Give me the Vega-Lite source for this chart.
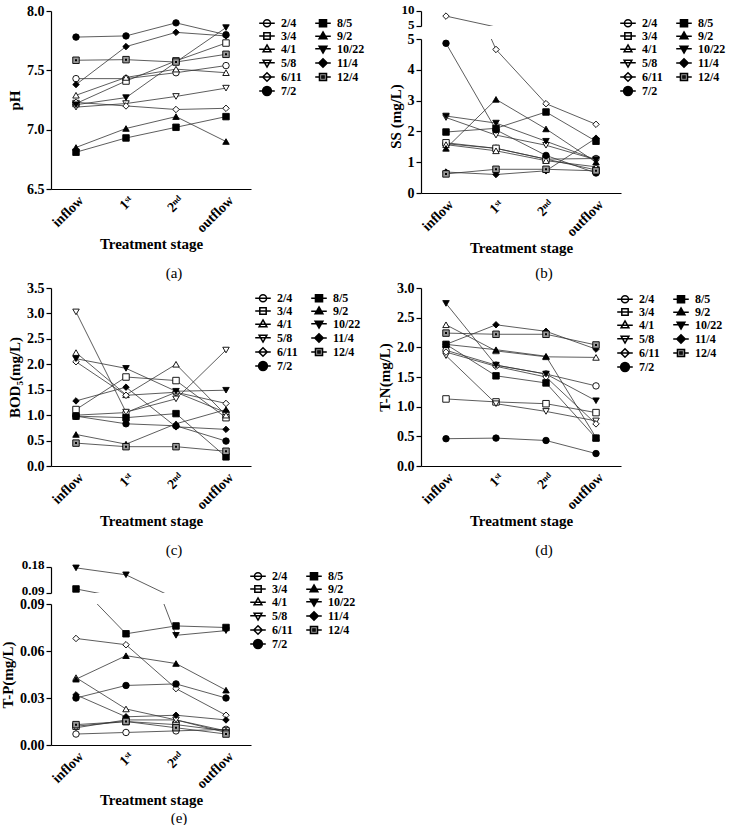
{
"$schema":"https://vega.github.io/schema/vega-lite/v6.json",
"padding":{"left":0,"top":3,"right":0,"bottom":0},
"background":"white",
"datasets":{"d":[
{"p":"a","s":"2/4","t":"inflow","v":7.43},{"p":"a","s":"2/4","t":"1st","v":7.43},{"p":"a","s":"2/4","t":"2nd","v":7.48},{"p":"a","s":"2/4","t":"outflow","v":7.54},
{"p":"a","s":"3/4","t":"inflow","v":7.22},{"p":"a","s":"3/4","t":"1st","v":7.41},{"p":"a","s":"3/4","t":"2nd","v":7.58},{"p":"a","s":"3/4","t":"outflow","v":7.73},
{"p":"a","s":"4/1","t":"inflow","v":7.29},{"p":"a","s":"4/1","t":"1st","v":7.44},{"p":"a","s":"4/1","t":"2nd","v":7.51},{"p":"a","s":"4/1","t":"outflow","v":7.48},
{"p":"a","s":"5/8","t":"inflow","v":7.19},{"p":"a","s":"5/8","t":"1st","v":7.22},{"p":"a","s":"5/8","t":"2nd","v":7.28},{"p":"a","s":"5/8","t":"outflow","v":7.35},
{"p":"a","s":"6/11","t":"inflow","v":7.23},{"p":"a","s":"6/11","t":"1st","v":7.2},{"p":"a","s":"6/11","t":"2nd","v":7.17},{"p":"a","s":"6/11","t":"outflow","v":7.18},
{"p":"a","s":"7/2","t":"inflow","v":7.78},{"p":"a","s":"7/2","t":"1st","v":7.79},{"p":"a","s":"7/2","t":"2nd","v":7.9},{"p":"a","s":"7/2","t":"outflow","v":7.8},
{"p":"a","s":"8/5","t":"inflow","v":6.81},{"p":"a","s":"8/5","t":"1st","v":6.93},{"p":"a","s":"8/5","t":"2nd","v":7.02},{"p":"a","s":"8/5","t":"outflow","v":7.11},
{"p":"a","s":"9/2","t":"inflow","v":6.85},{"p":"a","s":"9/2","t":"1st","v":7.01},{"p":"a","s":"9/2","t":"2nd","v":7.11},{"p":"a","s":"9/2","t":"outflow","v":6.9},
{"p":"a","s":"10/22","t":"inflow","v":7.21},{"p":"a","s":"10/22","t":"1st","v":7.27},{"p":"a","s":"10/22","t":"2nd","v":7.57},{"p":"a","s":"10/22","t":"outflow","v":7.86},
{"p":"a","s":"11/4","t":"inflow","v":7.38},{"p":"a","s":"11/4","t":"1st","v":7.7},{"p":"a","s":"11/4","t":"2nd","v":7.82},{"p":"a","s":"11/4","t":"outflow","v":7.79},
{"p":"a","s":"12/4","t":"inflow","v":7.585},{"p":"a","s":"12/4","t":"1st","v":7.59},{"p":"a","s":"12/4","t":"2nd","v":7.57},{"p":"a","s":"12/4","t":"outflow","v":7.635},
{"p":"b","s":"2/4","t":"inflow","v":1.6},{"p":"b","s":"2/4","t":"1st","v":1.45},{"p":"b","s":"2/4","t":"2nd","v":1.1},{"p":"b","s":"2/4","t":"outflow","v":1.12},
{"p":"b","s":"3/4","t":"inflow","v":1.63},{"p":"b","s":"3/4","t":"1st","v":1.45},{"p":"b","s":"3/4","t":"2nd","v":1.1},{"p":"b","s":"3/4","t":"outflow","v":0.75},
{"p":"b","s":"4/1","t":"inflow","v":1.57},{"p":"b","s":"4/1","t":"1st","v":1.37},{"p":"b","s":"4/1","t":"2nd","v":1.05},{"p":"b","s":"4/1","t":"outflow","v":0.85},
{"p":"b","s":"5/8","t":"inflow","v":2.45},{"p":"b","s":"5/8","t":"1st","v":1.88},{"p":"b","s":"5/8","t":"2nd","v":1.55},{"p":"b","s":"5/8","t":"outflow","v":1.08},
{"p":"b","s":"6/11","t":"inflow","v":8.3},{"p":"b","s":"6/11","t":"1st","v":4.66},{"p":"b","s":"6/11","t":"2nd","v":2.9},{"p":"b","s":"6/11","t":"outflow","v":2.23},
{"p":"b","s":"7/2","t":"inflow","v":4.86},{"p":"b","s":"7/2","t":"1st","v":2.05},{"p":"b","s":"7/2","t":"2nd","v":1.22},{"p":"b","s":"7/2","t":"outflow","v":0.65},
{"p":"b","s":"8/5","t":"inflow","v":1.98},{"p":"b","s":"8/5","t":"1st","v":2.1},{"p":"b","s":"8/5","t":"2nd","v":2.63},{"p":"b","s":"8/5","t":"outflow","v":1.68},
{"p":"b","s":"9/2","t":"inflow","v":1.45},{"p":"b","s":"9/2","t":"1st","v":3.04},{"p":"b","s":"9/2","t":"2nd","v":2.08},{"p":"b","s":"9/2","t":"outflow","v":1.0},
{"p":"b","s":"10/22","t":"inflow","v":2.5},{"p":"b","s":"10/22","t":"1st","v":2.27},{"p":"b","s":"10/22","t":"2nd","v":1.68},{"p":"b","s":"10/22","t":"outflow","v":1.08},
{"p":"b","s":"11/4","t":"inflow","v":0.68},{"p":"b","s":"11/4","t":"1st","v":0.6},{"p":"b","s":"11/4","t":"2nd","v":0.72},{"p":"b","s":"11/4","t":"outflow","v":1.78},
{"p":"b","s":"12/4","t":"inflow","v":0.62},{"p":"b","s":"12/4","t":"1st","v":0.77},{"p":"b","s":"12/4","t":"2nd","v":0.77},{"p":"b","s":"12/4","t":"outflow","v":0.72},
{"p":"c","s":"2/4","t":"inflow","v":1.0},{"p":"c","s":"2/4","t":"1st","v":1.05},{"p":"c","s":"2/4","t":"2nd","v":1.45},{"p":"c","s":"2/4","t":"outflow","v":1.05},
{"p":"c","s":"3/4","t":"inflow","v":1.11},{"p":"c","s":"3/4","t":"1st","v":1.75},{"p":"c","s":"3/4","t":"2nd","v":1.68},{"p":"c","s":"3/4","t":"outflow","v":0.95},
{"p":"c","s":"4/1","t":"inflow","v":2.23},{"p":"c","s":"4/1","t":"1st","v":1.4},{"p":"c","s":"4/1","t":"2nd","v":2.0},{"p":"c","s":"4/1","t":"outflow","v":1.0},
{"p":"c","s":"5/8","t":"inflow","v":3.03},{"p":"c","s":"5/8","t":"1st","v":1.06},{"p":"c","s":"5/8","t":"2nd","v":1.32},{"p":"c","s":"5/8","t":"outflow","v":2.28},
{"p":"c","s":"6/11","t":"inflow","v":2.05},{"p":"c","s":"6/11","t":"1st","v":1.39},{"p":"c","s":"6/11","t":"2nd","v":1.45},{"p":"c","s":"6/11","t":"outflow","v":1.23},
{"p":"c","s":"7/2","t":"inflow","v":0.98},{"p":"c","s":"7/2","t":"1st","v":0.83},{"p":"c","s":"7/2","t":"2nd","v":0.79},{"p":"c","s":"7/2","t":"outflow","v":0.49},
{"p":"c","s":"8/5","t":"inflow","v":0.98},{"p":"c","s":"8/5","t":"1st","v":0.95},{"p":"c","s":"8/5","t":"2nd","v":1.03},{"p":"c","s":"8/5","t":"outflow","v":0.18},
{"p":"c","s":"9/2","t":"inflow","v":0.62},{"p":"c","s":"9/2","t":"1st","v":0.43},{"p":"c","s":"9/2","t":"2nd","v":0.83},{"p":"c","s":"9/2","t":"outflow","v":1.11},
{"p":"c","s":"10/22","t":"inflow","v":2.11},{"p":"c","s":"10/22","t":"1st","v":1.92},{"p":"c","s":"10/22","t":"2nd","v":1.47},{"p":"c","s":"10/22","t":"outflow","v":1.49},
{"p":"c","s":"11/4","t":"inflow","v":1.28},{"p":"c","s":"11/4","t":"1st","v":1.55},{"p":"c","s":"11/4","t":"2nd","v":0.77},{"p":"c","s":"11/4","t":"outflow","v":0.72},
{"p":"c","s":"12/4","t":"inflow","v":0.45},{"p":"c","s":"12/4","t":"1st","v":0.38},{"p":"c","s":"12/4","t":"2nd","v":0.38},{"p":"c","s":"12/4","t":"outflow","v":0.29},
{"p":"d","s":"2/4","t":"inflow","v":1.95},{"p":"d","s":"2/4","t":"1st","v":1.7},{"p":"d","s":"2/4","t":"2nd","v":1.55},{"p":"d","s":"2/4","t":"outflow","v":1.35},
{"p":"d","s":"3/4","t":"inflow","v":1.13},{"p":"d","s":"3/4","t":"1st","v":1.08},{"p":"d","s":"3/4","t":"2nd","v":1.05},{"p":"d","s":"3/4","t":"outflow","v":0.9},
{"p":"d","s":"4/1","t":"inflow","v":2.38},{"p":"d","s":"4/1","t":"1st","v":1.94},{"p":"d","s":"4/1","t":"2nd","v":1.84},{"p":"d","s":"4/1","t":"outflow","v":1.83},
{"p":"d","s":"5/8","t":"inflow","v":1.86},{"p":"d","s":"5/8","t":"1st","v":1.05},{"p":"d","s":"5/8","t":"2nd","v":0.92},{"p":"d","s":"5/8","t":"outflow","v":0.76},
{"p":"d","s":"6/11","t":"inflow","v":1.92},{"p":"d","s":"6/11","t":"1st","v":1.68},{"p":"d","s":"6/11","t":"2nd","v":1.5},{"p":"d","s":"6/11","t":"outflow","v":0.71},
{"p":"d","s":"7/2","t":"inflow","v":0.46},{"p":"d","s":"7/2","t":"1st","v":0.47},{"p":"d","s":"7/2","t":"2nd","v":0.43},{"p":"d","s":"7/2","t":"outflow","v":0.21},
{"p":"d","s":"8/5","t":"inflow","v":2.05},{"p":"d","s":"8/5","t":"1st","v":1.52},{"p":"d","s":"8/5","t":"2nd","v":1.4},{"p":"d","s":"8/5","t":"outflow","v":0.47},
{"p":"d","s":"9/2","t":"inflow","v":2.05},{"p":"d","s":"9/2","t":"1st","v":1.96},{"p":"d","s":"9/2","t":"2nd","v":1.85},{"p":"d","s":"9/2","t":"outflow","v":0.48},
{"p":"d","s":"10/22","t":"inflow","v":2.74},{"p":"d","s":"10/22","t":"1st","v":1.7},{"p":"d","s":"10/22","t":"2nd","v":1.55},{"p":"d","s":"10/22","t":"outflow","v":1.1},
{"p":"d","s":"11/4","t":"inflow","v":2.05},{"p":"d","s":"11/4","t":"1st","v":2.38},{"p":"d","s":"11/4","t":"2nd","v":2.27},{"p":"d","s":"11/4","t":"outflow","v":1.97},
{"p":"d","s":"12/4","t":"inflow","v":2.24},{"p":"d","s":"12/4","t":"1st","v":2.22},{"p":"d","s":"12/4","t":"2nd","v":2.22},{"p":"d","s":"12/4","t":"outflow","v":2.04},
{"p":"e","s":"2/4","t":"inflow","v":0.007},{"p":"e","s":"2/4","t":"1st","v":0.008},{"p":"e","s":"2/4","t":"2nd","v":0.009},{"p":"e","s":"2/4","t":"outflow","v":0.01},
{"p":"e","s":"3/4","t":"inflow","v":0.012},{"p":"e","s":"3/4","t":"1st","v":0.015},{"p":"e","s":"3/4","t":"2nd","v":0.013},{"p":"e","s":"3/4","t":"outflow","v":0.009},
{"p":"e","s":"4/1","t":"inflow","v":0.043},{"p":"e","s":"4/1","t":"1st","v":0.023},{"p":"e","s":"4/1","t":"2nd","v":0.016},{"p":"e","s":"4/1","t":"outflow","v":0.009},
{"p":"e","s":"5/8","t":"inflow","v":0.011},{"p":"e","s":"5/8","t":"1st","v":0.016},{"p":"e","s":"5/8","t":"2nd","v":0.016},{"p":"e","s":"5/8","t":"outflow","v":0.008},
{"p":"e","s":"6/11","t":"inflow","v":0.068},{"p":"e","s":"6/11","t":"1st","v":0.064},{"p":"e","s":"6/11","t":"2nd","v":0.036},{"p":"e","s":"6/11","t":"outflow","v":0.019},
{"p":"e","s":"7/2","t":"inflow","v":0.03},{"p":"e","s":"7/2","t":"1st","v":0.038},{"p":"e","s":"7/2","t":"2nd","v":0.039},{"p":"e","s":"7/2","t":"outflow","v":0.03},
{"p":"e","s":"8/5","t":"inflow","v":0.104},{"p":"e","s":"8/5","t":"1st","v":0.071},{"p":"e","s":"8/5","t":"2nd","v":0.076},{"p":"e","s":"8/5","t":"outflow","v":0.075},
{"p":"e","s":"9/2","t":"inflow","v":0.042},{"p":"e","s":"9/2","t":"1st","v":0.057},{"p":"e","s":"9/2","t":"2nd","v":0.052},{"p":"e","s":"9/2","t":"outflow","v":0.035},
{"p":"e","s":"10/22","t":"inflow","v":0.177},{"p":"e","s":"10/22","t":"1st","v":0.153},{"p":"e","s":"10/22","t":"2nd","v":0.07},{"p":"e","s":"10/22","t":"outflow","v":0.073},
{"p":"e","s":"11/4","t":"inflow","v":0.032},{"p":"e","s":"11/4","t":"1st","v":0.018},{"p":"e","s":"11/4","t":"2nd","v":0.019},{"p":"e","s":"11/4","t":"outflow","v":0.016},
{"p":"e","s":"12/4","t":"inflow","v":0.013},{"p":"e","s":"12/4","t":"1st","v":0.015},{"p":"e","s":"12/4","t":"2nd","v":0.011},{"p":"e","s":"12/4","t":"outflow","v":0.007}
]},
"data":{"name":"d"},
"columns":2,
"align":"each",
"spacing":{"column":12,"row":0},
"resolve":{"scale":{"x":"independent","y":"independent","shape":"independent","fill":"independent"},"legend":{"shape":"independent","fill":"independent"}},
"concat":[
{
 "width":200,"height":178,
 "title":{"text":"(a)","orient":"bottom","offset":14,"dx":23},
 "transform":[{"filter":"datum.p=='a'"}],
 "encoding":{
  "x":{"field":"t","type":"ordinal","sort":["inflow","1st","2nd","outflow"],"scale":{"type":"point","padding":0.5},"axis":{"title":"Treatment stage","labelExpr":"datum.value=='1st'?'1ˢᵗ':datum.value=='2nd'?'2ⁿᵈ':datum.value"}},
  "y":{"field":"v","type":"quantitative","scale":{"domain":[6.5,8.0]},"axis":{"title":"pH","values":[6.5,7.0,7.5,8.0],"format":".1f"}}
 },
 "resolve":{"scale":{"shape":"independent","fill":"independent"}},
 "layer":[
  {"mark":{"type":"line","color":"#333","strokeWidth":0.8},"encoding":{"detail":{"field":"s"},"order":{"value":null}}},
  {"mark":{"type":"point","filled":true,"size":42,"stroke":"black","strokeWidth":0.9,"opacity":1},
   "encoding":{
    "shape":{"field":"s","type":"nominal","scale":{"domain":["2/4","3/4","4/1","5/8","6/11","7/2","8/5","9/2","10/22","11/4","12/4"],"range":["circle","square","triangle-up","triangle-down","diamond","circle","square","triangle-up","triangle-down","diamond","square"]},"legend":null},
    "fill":{"field":"s","type":"nominal","scale":{"domain":["2/4","3/4","4/1","5/8","6/11","7/2","8/5","9/2","10/22","11/4","12/4"],"range":["white","white","white","white","white","black","black","black","black","black","#9a9a9a"]},"legend":null}
   }},
  {"transform":[{"filter":"datum.s=='12/4'"}],"mark":{"type":"point","shape":"square","filled":true,"size":4,"color":"black","opacity":1}},
  {"transform":[{"filter":"false"}],
   "mark":{"type":"point","filled":true,"size":50,"stroke":"black","strokeWidth":0.9,"opacity":1},
   "encoding":{
    "shape":{"field":"s","type":"nominal","scale":{"domain":["2/4","3/4","4/1","5/8","6/11","7/2","8/5","9/2","10/22","11/4","12/4"],"range":["M-2.2,0H2.2M1,0A1,1,0,1,1,-1,0A1,1,0,1,1,1,0Z","M-2.2,0H2.2M-0.9,-0.9H0.9V0.9H-0.9Z","M-2.2,0.1H2.2M0,-1.15L1.1,0.8H-1.1Z","M-2.2,-0.1H2.2M0,1.15L1.1,-0.8H-1.1Z","M-2.2,0H2.2M0,-1.2L1.2,0L0,1.2L-1.2,0Z","M-2.2,0H2.2M1.25,0A1.25,1.25,0,1,1,-1.25,0A1.25,1.25,0,1,1,1.25,0Z","M-2.2,0H2.2M-1,-1H1V1H-1Z","M-2.2,0.1H2.2M0,-1.15L1.1,0.8H-1.1Z","M-2.2,-0.1H2.2M0,1.15L1.1,-0.8H-1.1Z","M-2.2,0H2.2M0,-1.2L1.2,0L0,1.2L-1.2,0Z","M-2.2,0H-1M1,0H2.2M-1,-1H1V1H-1ZM-0.3,-0.3H0.3V0.3H-0.3Z"]},
     "legend":{"title":null,"orient":"none","legendX":210,"legendY":6,"columns":2,"symbolSize":50,"labelOffset":8,"rowPadding":-3,"columnPadding":10}},
    "fill":{"field":"s","type":"nominal","scale":{"domain":["2/4","3/4","4/1","5/8","6/11","7/2","8/5","9/2","10/22","11/4","12/4"],"range":["white","white","white","white","white","black","black","black","black","black","#9a9a9a"]},"legend":null}
   }}
 ]
},
{
 "vconcat":[
  {
   "width":200,"height":15,
   "transform":[{"filter":"datum.p=='b'"}],
   "encoding":{
    "x":{"field":"t","type":"ordinal","sort":["inflow","1st","2nd","outflow"],"scale":{"type":"point","padding":0.5},"axis":null},
    "y":{"field":"v","type":"quantitative","scale":{"domain":[5,10]},"axis":{"title":null,"values":[5,10],"format":"d","labelFontSize":13,"labelOffset":-2}}
   },
   "layer":[
    {"mark":{"type":"line","color":"#333","strokeWidth":0.8,"clip":true},"encoding":{"detail":{"field":"s"},"order":{"value":null}}},
    {"transform":[{"filter":"datum.v>=5"}],"mark":{"type":"point","filled":true,"size":42,"stroke":"black","strokeWidth":0.9,"opacity":1},
     "encoding":{
      "shape":{"field":"s","type":"nominal","scale":{"domain":["2/4","3/4","4/1","5/8","6/11","7/2","8/5","9/2","10/22","11/4","12/4"],"range":["circle","square","triangle-up","triangle-down","diamond","circle","square","triangle-up","triangle-down","diamond","square"]},"legend":null},
      "fill":{"field":"s","type":"nominal","scale":{"domain":["2/4","3/4","4/1","5/8","6/11","7/2","8/5","9/2","10/22","11/4","12/4"],"range":["white","white","white","white","white","black","black","black","black","black","#9a9a9a"]},"legend":null}
     }}
   ]
  },
  {
   "width":200,"height":154,
   "title":{"text":"(b)","orient":"bottom","offset":10,"dx":23},
   "transform":[{"filter":"datum.p=='b'"}],
   "encoding":{
    "x":{"field":"t","type":"ordinal","sort":["inflow","1st","2nd","outflow"],"scale":{"type":"point","padding":0.5},"axis":{"title":"Treatment stage","labelExpr":"datum.value=='1st'?'1ˢᵗ':datum.value=='2nd'?'2ⁿᵈ':datum.value"}},
    "y":{"field":"v","type":"quantitative","scale":{"domain":[0,5]},"axis":{"title":"SS (mg/L)","values":[0,1,2,3,4,5],"format":"d"}}
   },
   "resolve":{"scale":{"shape":"independent","fill":"independent"}},
   "layer":[
    {"mark":{"type":"line","color":"#333","strokeWidth":0.8,"clip":true},"encoding":{"detail":{"field":"s"},"order":{"value":null}}},
    {"transform":[{"filter":"datum.v<=5"}],"mark":{"type":"point","filled":true,"size":42,"stroke":"black","strokeWidth":0.9,"opacity":1},
     "encoding":{
      "shape":{"field":"s","type":"nominal","scale":{"domain":["2/4","3/4","4/1","5/8","6/11","7/2","8/5","9/2","10/22","11/4","12/4"],"range":["circle","square","triangle-up","triangle-down","diamond","circle","square","triangle-up","triangle-down","diamond","square"]},"legend":null},
      "fill":{"field":"s","type":"nominal","scale":{"domain":["2/4","3/4","4/1","5/8","6/11","7/2","8/5","9/2","10/22","11/4","12/4"],"range":["white","white","white","white","white","black","black","black","black","black","#9a9a9a"]},"legend":null}
     }},
    {"transform":[{"filter":"datum.s=='12/4'"}],"mark":{"type":"point","shape":"square","filled":true,"size":4,"color":"black","opacity":1}},
    {"transform":[{"filter":"false"}],
     "mark":{"type":"point","filled":true,"size":50,"stroke":"black","strokeWidth":0.9,"opacity":1},
     "encoding":{
      "shape":{"field":"s","type":"nominal","scale":{"domain":["2/4","3/4","4/1","5/8","6/11","7/2","8/5","9/2","10/22","11/4","12/4"],"range":["M-2.2,0H2.2M1,0A1,1,0,1,1,-1,0A1,1,0,1,1,1,0Z","M-2.2,0H2.2M-0.9,-0.9H0.9V0.9H-0.9Z","M-2.2,0.1H2.2M0,-1.15L1.1,0.8H-1.1Z","M-2.2,-0.1H2.2M0,1.15L1.1,-0.8H-1.1Z","M-2.2,0H2.2M0,-1.2L1.2,0L0,1.2L-1.2,0Z","M-2.2,0H2.2M1.25,0A1.25,1.25,0,1,1,-1.25,0A1.25,1.25,0,1,1,1.25,0Z","M-2.2,0H2.2M-1,-1H1V1H-1Z","M-2.2,0.1H2.2M0,-1.15L1.1,0.8H-1.1Z","M-2.2,-0.1H2.2M0,1.15L1.1,-0.8H-1.1Z","M-2.2,0H2.2M0,-1.2L1.2,0L0,1.2L-1.2,0Z","M-2.2,0H-1M1,0H2.2M-1,-1H1V1H-1ZM-0.3,-0.3H0.3V0.3H-0.3Z"]},
       "legend":{"title":null,"orient":"none","legendX":201,"legendY":-22,"columns":2,"symbolSize":50,"labelOffset":8,"rowPadding":-3,"columnPadding":10}},
      "fill":{"field":"s","type":"nominal","scale":{"domain":["2/4","3/4","4/1","5/8","6/11","7/2","8/5","9/2","10/22","11/4","12/4"],"range":["white","white","white","white","white","black","black","black","black","black","#9a9a9a"]},"legend":null}
     }}
   ]
  }
 ],
 "spacing":13,
 "bounds":"flush",
 "resolve":{"scale":{"x":"independent","y":"independent","shape":"independent","fill":"independent"},"legend":{"shape":"independent","fill":"independent"}}
},
{
 "width":200,"height":178,
 "title":{"text":"(c)","orient":"bottom","offset":14,"dx":23},
 "transform":[{"filter":"datum.p=='c'"}],
 "encoding":{
  "x":{"field":"t","type":"ordinal","sort":["inflow","1st","2nd","outflow"],"scale":{"type":"point","padding":0.5},"axis":{"title":"Treatment stage","labelExpr":"datum.value=='1st'?'1ˢᵗ':datum.value=='2nd'?'2ⁿᵈ':datum.value"}},
  "y":{"field":"v","type":"quantitative","scale":{"domain":[0,3.5]},"axis":{"title":"BOD₅(mg/L)","values":[0,0.5,1,1.5,2,2.5,3,3.5],"format":".1f"}}
 },
 "resolve":{"scale":{"shape":"independent","fill":"independent"}},
 "layer":[
  {"mark":{"type":"line","color":"#333","strokeWidth":0.8},"encoding":{"detail":{"field":"s"},"order":{"value":null}}},
  {"mark":{"type":"point","filled":true,"size":42,"stroke":"black","strokeWidth":0.9,"opacity":1},
   "encoding":{
    "shape":{"field":"s","type":"nominal","scale":{"domain":["2/4","3/4","4/1","5/8","6/11","7/2","8/5","9/2","10/22","11/4","12/4"],"range":["circle","square","triangle-up","triangle-down","diamond","circle","square","triangle-up","triangle-down","diamond","square"]},"legend":null},
    "fill":{"field":"s","type":"nominal","scale":{"domain":["2/4","3/4","4/1","5/8","6/11","7/2","8/5","9/2","10/22","11/4","12/4"],"range":["white","white","white","white","white","black","black","black","black","black","#9a9a9a"]},"legend":null}
   }},
  {"transform":[{"filter":"datum.s=='12/4'"}],"mark":{"type":"point","shape":"square","filled":true,"size":4,"color":"black","opacity":1}},
  {"transform":[{"filter":"false"}],
   "mark":{"type":"point","filled":true,"size":50,"stroke":"black","strokeWidth":0.9,"opacity":1},
   "encoding":{
    "shape":{"field":"s","type":"nominal","scale":{"domain":["2/4","3/4","4/1","5/8","6/11","7/2","8/5","9/2","10/22","11/4","12/4"],"range":["M-2.2,0H2.2M1,0A1,1,0,1,1,-1,0A1,1,0,1,1,1,0Z","M-2.2,0H2.2M-0.9,-0.9H0.9V0.9H-0.9Z","M-2.2,0.1H2.2M0,-1.15L1.1,0.8H-1.1Z","M-2.2,-0.1H2.2M0,1.15L1.1,-0.8H-1.1Z","M-2.2,0H2.2M0,-1.2L1.2,0L0,1.2L-1.2,0Z","M-2.2,0H2.2M1.25,0A1.25,1.25,0,1,1,-1.25,0A1.25,1.25,0,1,1,1.25,0Z","M-2.2,0H2.2M-1,-1H1V1H-1Z","M-2.2,0.1H2.2M0,-1.15L1.1,0.8H-1.1Z","M-2.2,-0.1H2.2M0,1.15L1.1,-0.8H-1.1Z","M-2.2,0H2.2M0,-1.2L1.2,0L0,1.2L-1.2,0Z","M-2.2,0H-1M1,0H2.2M-1,-1H1V1H-1ZM-0.3,-0.3H0.3V0.3H-0.3Z"]},
     "legend":{"title":null,"orient":"none","legendX":206,"legendY":4,"columns":2,"symbolSize":50,"labelOffset":8,"rowPadding":-3,"columnPadding":10}},
    "fill":{"field":"s","type":"nominal","scale":{"domain":["2/4","3/4","4/1","5/8","6/11","7/2","8/5","9/2","10/22","11/4","12/4"],"range":["white","white","white","white","white","black","black","black","black","black","#9a9a9a"]},"legend":null}
   }}
 ]
},
{
 "width":200,"height":178,
 "title":{"text":"(d)","orient":"bottom","offset":14,"dx":23},
 "transform":[{"filter":"datum.p=='d'"}],
 "encoding":{
  "x":{"field":"t","type":"ordinal","sort":["inflow","1st","2nd","outflow"],"scale":{"type":"point","padding":0.5},"axis":{"title":"Treatment stage","labelExpr":"datum.value=='1st'?'1ˢᵗ':datum.value=='2nd'?'2ⁿᵈ':datum.value"}},
  "y":{"field":"v","type":"quantitative","scale":{"domain":[0,3.0]},"axis":{"title":"T-N(mg/L)","values":[0,0.5,1,1.5,2,2.5,3],"format":".1f"}}
 },
 "resolve":{"scale":{"shape":"independent","fill":"independent"}},
 "layer":[
  {"mark":{"type":"line","color":"#333","strokeWidth":0.8},"encoding":{"detail":{"field":"s"},"order":{"value":null}}},
  {"mark":{"type":"point","filled":true,"size":42,"stroke":"black","strokeWidth":0.9,"opacity":1},
   "encoding":{
    "shape":{"field":"s","type":"nominal","scale":{"domain":["2/4","3/4","4/1","5/8","6/11","7/2","8/5","9/2","10/22","11/4","12/4"],"range":["circle","square","triangle-up","triangle-down","diamond","circle","square","triangle-up","triangle-down","diamond","square"]},"legend":null},
    "fill":{"field":"s","type":"nominal","scale":{"domain":["2/4","3/4","4/1","5/8","6/11","7/2","8/5","9/2","10/22","11/4","12/4"],"range":["white","white","white","white","white","black","black","black","black","black","#9a9a9a"]},"legend":null}
   }},
  {"transform":[{"filter":"datum.s=='12/4'"}],"mark":{"type":"point","shape":"square","filled":true,"size":4,"color":"black","opacity":1}},
  {"transform":[{"filter":"false"}],
   "mark":{"type":"point","filled":true,"size":50,"stroke":"black","strokeWidth":0.9,"opacity":1},
   "encoding":{
    "shape":{"field":"s","type":"nominal","scale":{"domain":["2/4","3/4","4/1","5/8","6/11","7/2","8/5","9/2","10/22","11/4","12/4"],"range":["M-2.2,0H2.2M1,0A1,1,0,1,1,-1,0A1,1,0,1,1,1,0Z","M-2.2,0H2.2M-0.9,-0.9H0.9V0.9H-0.9Z","M-2.2,0.1H2.2M0,-1.15L1.1,0.8H-1.1Z","M-2.2,-0.1H2.2M0,1.15L1.1,-0.8H-1.1Z","M-2.2,0H2.2M0,-1.2L1.2,0L0,1.2L-1.2,0Z","M-2.2,0H2.2M1.25,0A1.25,1.25,0,1,1,-1.25,0A1.25,1.25,0,1,1,1.25,0Z","M-2.2,0H2.2M-1,-1H1V1H-1Z","M-2.2,0.1H2.2M0,-1.15L1.1,0.8H-1.1Z","M-2.2,-0.1H2.2M0,1.15L1.1,-0.8H-1.1Z","M-2.2,0H2.2M0,-1.2L1.2,0L0,1.2L-1.2,0Z","M-2.2,0H-1M1,0H2.2M-1,-1H1V1H-1ZM-0.3,-0.3H0.3V0.3H-0.3Z"]},
     "legend":{"title":null,"orient":"none","legendX":198,"legendY":5,"columns":2,"symbolSize":50,"labelOffset":8,"rowPadding":-3,"columnPadding":10}},
    "fill":{"field":"s","type":"nominal","scale":{"domain":["2/4","3/4","4/1","5/8","6/11","7/2","8/5","9/2","10/22","11/4","12/4"],"range":["white","white","white","white","white","black","black","black","black","black","#9a9a9a"]},"legend":null}
   }}
 ]
},
{
 "vconcat":[
  {
   "width":200,"height":26,
   "transform":[{"filter":"datum.p=='e'"}],
   "encoding":{
    "x":{"field":"t","type":"ordinal","sort":["inflow","1st","2nd","outflow"],"scale":{"type":"point","padding":0.5},"axis":null},
    "y":{"field":"v","type":"quantitative","scale":{"domain":[0.09,0.18]},"axis":{"title":null,"values":[0.09,0.18],"format":".2f","labelFontSize":13,"labelOffset":-3}}
   },
   "layer":[
    {"mark":{"type":"line","color":"#333","strokeWidth":0.8,"clip":true},"encoding":{"detail":{"field":"s"},"order":{"value":null}}},
    {"transform":[{"filter":"datum.v>=0.09"}],"mark":{"type":"point","filled":true,"size":42,"stroke":"black","strokeWidth":0.9,"opacity":1},
     "encoding":{
      "shape":{"field":"s","type":"nominal","scale":{"domain":["2/4","3/4","4/1","5/8","6/11","7/2","8/5","9/2","10/22","11/4","12/4"],"range":["circle","square","triangle-up","triangle-down","diamond","circle","square","triangle-up","triangle-down","diamond","square"]},"legend":null},
      "fill":{"field":"s","type":"nominal","scale":{"domain":["2/4","3/4","4/1","5/8","6/11","7/2","8/5","9/2","10/22","11/4","12/4"],"range":["white","white","white","white","white","black","black","black","black","black","#9a9a9a"]},"legend":null}
     }}
   ]
  },
  {
   "width":200,"height":141,
   "title":{"text":"(e)","orient":"bottom","offset":3,"dx":28},
   "transform":[{"filter":"datum.p=='e'"}],
   "encoding":{
    "x":{"field":"t","type":"ordinal","sort":["inflow","1st","2nd","outflow"],"scale":{"type":"point","padding":0.5},"axis":{"title":"Treatment stage","labelExpr":"datum.value=='1st'?'1ˢᵗ':datum.value=='2nd'?'2ⁿᵈ':datum.value"}},
    "y":{"field":"v","type":"quantitative","scale":{"domain":[0,0.09]},"axis":{"title":"T-P(mg/L)","values":[0,0.03,0.06,0.09],"format":".2f"}}
   },
   "resolve":{"scale":{"shape":"independent","fill":"independent"}},
   "layer":[
    {"mark":{"type":"line","color":"#333","strokeWidth":0.8,"clip":true},"encoding":{"detail":{"field":"s"},"order":{"value":null}}},
    {"transform":[{"filter":"datum.v<=0.09"}],"mark":{"type":"point","filled":true,"size":42,"stroke":"black","strokeWidth":0.9,"opacity":1},
     "encoding":{
      "shape":{"field":"s","type":"nominal","scale":{"domain":["2/4","3/4","4/1","5/8","6/11","7/2","8/5","9/2","10/22","11/4","12/4"],"range":["circle","square","triangle-up","triangle-down","diamond","circle","square","triangle-up","triangle-down","diamond","square"]},"legend":null},
      "fill":{"field":"s","type":"nominal","scale":{"domain":["2/4","3/4","4/1","5/8","6/11","7/2","8/5","9/2","10/22","11/4","12/4"],"range":["white","white","white","white","white","black","black","black","black","black","#9a9a9a"]},"legend":null}
     }},
    {"transform":[{"filter":"datum.s=='12/4'"}],"mark":{"type":"point","shape":"square","filled":true,"size":4,"color":"black","opacity":1}},
    {"transform":[{"filter":"false"}],
     "mark":{"type":"point","filled":true,"size":50,"stroke":"black","strokeWidth":0.9,"opacity":1},
     "encoding":{
      "shape":{"field":"s","type":"nominal","scale":{"domain":["2/4","3/4","4/1","5/8","6/11","7/2","8/5","9/2","10/22","11/4","12/4"],"range":["M-2.2,0H2.2M1,0A1,1,0,1,1,-1,0A1,1,0,1,1,1,0Z","M-2.2,0H2.2M-0.9,-0.9H0.9V0.9H-0.9Z","M-2.2,0.1H2.2M0,-1.15L1.1,0.8H-1.1Z","M-2.2,-0.1H2.2M0,1.15L1.1,-0.8H-1.1Z","M-2.2,0H2.2M0,-1.2L1.2,0L0,1.2L-1.2,0Z","M-2.2,0H2.2M1.25,0A1.25,1.25,0,1,1,-1.25,0A1.25,1.25,0,1,1,1.25,0Z","M-2.2,0H2.2M-1,-1H1V1H-1Z","M-2.2,0.1H2.2M0,-1.15L1.1,0.8H-1.1Z","M-2.2,-0.1H2.2M0,1.15L1.1,-0.8H-1.1Z","M-2.2,0H2.2M0,-1.2L1.2,0L0,1.2L-1.2,0Z","M-2.2,0H-1M1,0H2.2M-1,-1H1V1H-1ZM-0.3,-0.3H0.3V0.3H-0.3Z"]},
       "legend":{"title":null,"orient":"none","legendX":201,"legendY":-34,"columns":2,"symbolSize":50,"labelOffset":8,"rowPadding":-3,"columnPadding":10}},
      "fill":{"field":"s","type":"nominal","scale":{"domain":["2/4","3/4","4/1","5/8","6/11","7/2","8/5","9/2","10/22","11/4","12/4"],"range":["white","white","white","white","white","black","black","black","black","black","#9a9a9a"]},"legend":null}
     }}
   ]
  }
 ],
 "spacing":11,
 "bounds":"flush",
 "resolve":{"scale":{"x":"independent","y":"independent","shape":"independent","fill":"independent"},"legend":{"shape":"independent","fill":"independent"}}
}
],
"config":{
 "view":{"stroke":null},
 "font":"Liberation Serif",
 "axis":{"domainColor":"black","domainWidth":1.2,"tickColor":"black","tickWidth":1.2,"grid":false,"labelFont":"Liberation Serif","labelFontWeight":"bold","labelFontSize":14,"labelColor":"black","titleFont":"Liberation Serif","titleFontWeight":"bold","titleFontSize":15,"titleColor":"black"},
 "axisX":{"ticks":false,"labelAngle":-45,"labelPadding":4,"titlePadding":2},
 "axisY":{"tickSize":5,"labelPadding":2,"titlePadding":4},
 "legend":{"labelFont":"Liberation Serif","labelFontWeight":"bold","labelFontSize":12,"labelColor":"black"},
 "title":{"font":"Liberation Serif","fontSize":15,"fontWeight":"normal","color":"black"}
}
}
